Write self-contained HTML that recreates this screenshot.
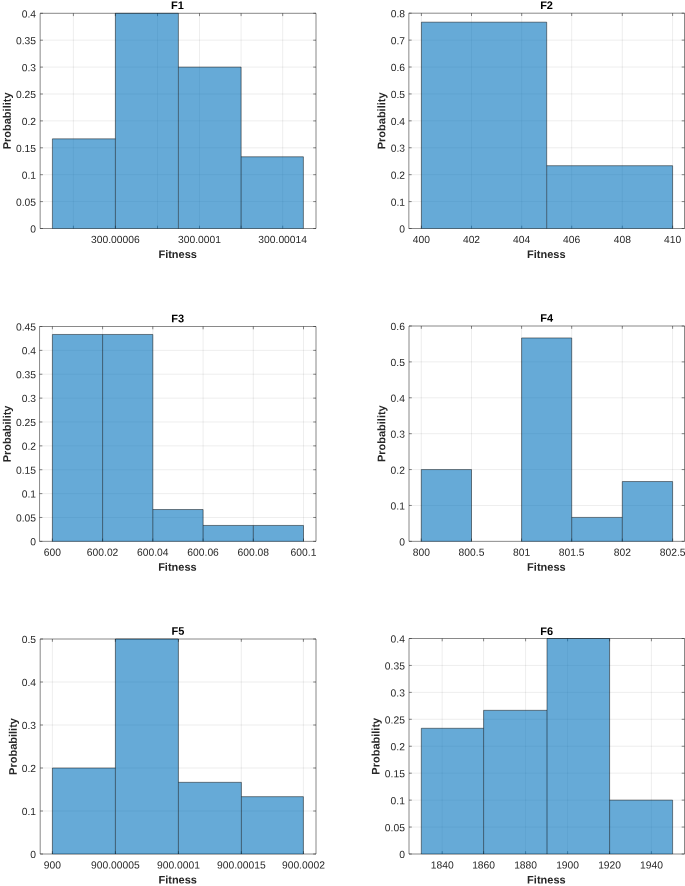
<!DOCTYPE html>
<html><head><meta charset="utf-8"><title>Histograms</title>
<style>
html,body{margin:0;padding:0;background:#fff;}
body{width:685px;height:886px;position:relative;overflow:hidden;font-family:"Liberation Sans",sans-serif;}
svg{display:block;position:absolute;left:0;top:0;will-change:transform;}
text{font-family:"Liberation Sans",sans-serif;fill:#262626;}
.t{font-size:10.3px;}
.b{font-size:11px;font-weight:bold;}
</style></head><body>
<svg width="685" height="886" viewBox="0 0 685 886">
<rect x="0" y="0" width="685" height="886" fill="#fff"/>
<g>
<path d="M73.4 13.3V228.5M115.4 13.3V228.5M157.5 13.3V228.5M199.5 13.3V228.5M241.1 13.3V228.5M282.7 13.3V228.5M40.15 201.6H316M40.15 174.7H316M40.15 147.8H316M40.15 120.9H316M40.15 94H316M40.15 67.1H316M40.15 40.2H316" stroke="#262626" stroke-opacity="0.15" stroke-width="0.55" fill="none"/>
<path d="M40.15 13.3H316V228.5H40.15Z" stroke="#262626" stroke-width="0.55" fill="none"/>
<path d="M73.4 228.5v-2.8M73.4 13.3v2.8M115.4 228.5v-2.8M115.4 13.3v2.8M157.5 228.5v-2.8M157.5 13.3v2.8M199.5 228.5v-2.8M199.5 13.3v2.8M241.1 228.5v-2.8M241.1 13.3v2.8M282.7 228.5v-2.8M282.7 13.3v2.8M40.15 228.5h2.8M316 228.5h-2.8M40.15 201.6h2.8M316 201.6h-2.8M40.15 174.7h2.8M316 174.7h-2.8M40.15 147.8h2.8M316 147.8h-2.8M40.15 120.9h2.8M316 120.9h-2.8M40.15 94h2.8M316 94h-2.8M40.15 67.1h2.8M316 67.1h-2.8M40.15 40.2h2.8M316 40.2h-2.8M40.15 13.3h2.8M316 13.3h-2.8" stroke="#262626" stroke-width="0.55" fill="none"/>
<rect x="52.4" y="138.83" width="63" height="89.67" fill="#0072BD" fill-opacity="0.6"/>
<rect x="115.4" y="13.3" width="63" height="215.2" fill="#0072BD" fill-opacity="0.6"/>
<rect x="178.4" y="67.1" width="62.7" height="161.4" fill="#0072BD" fill-opacity="0.6"/>
<rect x="241.1" y="156.77" width="62.3" height="71.73" fill="#0072BD" fill-opacity="0.6"/>
<path d="M52.4 228.5V138.83M115.4 228.5V13.3M178.4 228.5V13.3M241.1 228.5V67.1M303.4 228.5V156.77M52.4 138.83H115.4M115.4 13.3H178.4M178.4 67.1H241.1M241.1 156.77H303.4" stroke="#000" stroke-opacity="0.78" stroke-width="0.6" fill="none"/>
<path d="M52.4 228.5H115.4M115.4 228.5H178.4M178.4 228.5H241.1M241.1 228.5H303.4" stroke="#000" stroke-opacity="0.35" stroke-width="0.6" fill="none"/>
<text transform="translate(115.4 242.9) rotate(0.04)" text-anchor="middle" class="t">300.00006</text>
<text transform="translate(199.5 242.9) rotate(0.04)" text-anchor="middle" class="t">300.0001</text>
<text transform="translate(282.7 242.9) rotate(0.04)" text-anchor="middle" class="t">300.00014</text>
<text transform="translate(36.05 232.6) rotate(0.04)" text-anchor="end" class="t">0</text>
<text transform="translate(36.05 205.7) rotate(0.04)" text-anchor="end" class="t">0.05</text>
<text transform="translate(36.05 178.8) rotate(0.04)" text-anchor="end" class="t">0.1</text>
<text transform="translate(36.05 151.9) rotate(0.04)" text-anchor="end" class="t">0.15</text>
<text transform="translate(36.05 125) rotate(0.04)" text-anchor="end" class="t">0.2</text>
<text transform="translate(36.05 98.1) rotate(0.04)" text-anchor="end" class="t">0.25</text>
<text transform="translate(36.05 71.2) rotate(0.04)" text-anchor="end" class="t">0.3</text>
<text transform="translate(36.05 44.3) rotate(0.04)" text-anchor="end" class="t">0.35</text>
<text transform="translate(36.05 17.4) rotate(0.04)" text-anchor="end" class="t">0.4</text>
<text transform="translate(177.38 9.1) rotate(0.04)" text-anchor="middle" class="b" style="fill:#000">F1</text>
<text transform="translate(177.67 258) rotate(0.04)" text-anchor="middle" class="b">Fitness</text>
<text transform="translate(10.7 120.9) rotate(-89.96)" text-anchor="middle" class="b">Probability</text>
</g>
<g>
<path d="M421.4 13.2V228.5M471.5 13.2V228.5M521.7 13.2V228.5M571.7 13.2V228.5M622.3 13.2V228.5M672.6 13.2V228.5M408.85 201.59H684.5M408.85 174.68H684.5M408.85 147.76H684.5M408.85 120.85H684.5M408.85 93.94H684.5M408.85 67.03H684.5M408.85 40.11H684.5" stroke="#262626" stroke-opacity="0.15" stroke-width="0.55" fill="none"/>
<path d="M408.85 13.2H684.5V228.5H408.85Z" stroke="#262626" stroke-width="0.55" fill="none"/>
<path d="M421.4 228.5v-2.8M421.4 13.2v2.8M471.5 228.5v-2.8M471.5 13.2v2.8M521.7 228.5v-2.8M521.7 13.2v2.8M571.7 228.5v-2.8M571.7 13.2v2.8M622.3 228.5v-2.8M622.3 13.2v2.8M672.6 228.5v-2.8M672.6 13.2v2.8M408.85 228.5h2.8M684.5 228.5h-2.8M408.85 201.59h2.8M684.5 201.59h-2.8M408.85 174.68h2.8M684.5 174.68h-2.8M408.85 147.76h2.8M684.5 147.76h-2.8M408.85 120.85h2.8M684.5 120.85h-2.8M408.85 93.94h2.8M684.5 93.94h-2.8M408.85 67.03h2.8M684.5 67.03h-2.8M408.85 40.11h2.8M684.5 40.11h-2.8M408.85 13.2h2.8M684.5 13.2h-2.8" stroke="#262626" stroke-width="0.55" fill="none"/>
<rect x="421.4" y="22.17" width="125.3" height="206.33" fill="#0072BD" fill-opacity="0.6"/>
<rect x="546.7" y="165.7" width="125.9" height="62.8" fill="#0072BD" fill-opacity="0.6"/>
<path d="M421.4 228.5V22.17M546.7 228.5V22.17M672.6 228.5V165.7M421.4 22.17H546.7M546.7 165.7H672.6" stroke="#000" stroke-opacity="0.78" stroke-width="0.6" fill="none"/>
<path d="M421.4 228.5H546.7M546.7 228.5H672.6" stroke="#000" stroke-opacity="0.35" stroke-width="0.6" fill="none"/>
<text transform="translate(421.4 242.9) rotate(0.04)" text-anchor="middle" class="t">400</text>
<text transform="translate(471.5 242.9) rotate(0.04)" text-anchor="middle" class="t">402</text>
<text transform="translate(521.7 242.9) rotate(0.04)" text-anchor="middle" class="t">404</text>
<text transform="translate(571.7 242.9) rotate(0.04)" text-anchor="middle" class="t">406</text>
<text transform="translate(622.3 242.9) rotate(0.04)" text-anchor="middle" class="t">408</text>
<text transform="translate(672.6 242.9) rotate(0.04)" text-anchor="middle" class="t">410</text>
<text transform="translate(405 232.6) rotate(0.04)" text-anchor="end" class="t">0</text>
<text transform="translate(405 205.69) rotate(0.04)" text-anchor="end" class="t">0.1</text>
<text transform="translate(405 178.78) rotate(0.04)" text-anchor="end" class="t">0.2</text>
<text transform="translate(405 151.86) rotate(0.04)" text-anchor="end" class="t">0.3</text>
<text transform="translate(405 124.95) rotate(0.04)" text-anchor="end" class="t">0.4</text>
<text transform="translate(405 98.04) rotate(0.04)" text-anchor="end" class="t">0.5</text>
<text transform="translate(405 71.12) rotate(0.04)" text-anchor="end" class="t">0.6</text>
<text transform="translate(405 44.21) rotate(0.04)" text-anchor="end" class="t">0.7</text>
<text transform="translate(405 17.3) rotate(0.04)" text-anchor="end" class="t">0.8</text>
<text transform="translate(546.57 9) rotate(0.04)" text-anchor="middle" class="b" style="fill:#000">F2</text>
<text transform="translate(546.27 258) rotate(0.04)" text-anchor="middle" class="b">Fitness</text>
<text transform="translate(385.3 120.85) rotate(-89.96)" text-anchor="middle" class="b">Probability</text>
</g>
<g>
<path d="M52.4 326.5V541.35M102.6 326.5V541.35M152.8 326.5V541.35M203.1 326.5V541.35M253.3 326.5V541.35M303.5 326.5V541.35M39.55 517.48H316M39.55 493.61H316M39.55 469.73H316M39.55 445.86H316M39.55 421.99H316M39.55 398.12H316M39.55 374.24H316M39.55 350.37H316" stroke="#262626" stroke-opacity="0.15" stroke-width="0.55" fill="none"/>
<path d="M39.55 326.5H316V541.35H39.55Z" stroke="#262626" stroke-width="0.55" fill="none"/>
<path d="M52.4 541.35v-2.8M52.4 326.5v2.8M102.6 541.35v-2.8M102.6 326.5v2.8M152.8 541.35v-2.8M152.8 326.5v2.8M203.1 541.35v-2.8M203.1 326.5v2.8M253.3 541.35v-2.8M253.3 326.5v2.8M303.5 541.35v-2.8M303.5 326.5v2.8M39.55 541.35h2.8M316 541.35h-2.8M39.55 517.48h2.8M316 517.48h-2.8M39.55 493.61h2.8M316 493.61h-2.8M39.55 469.73h2.8M316 469.73h-2.8M39.55 445.86h2.8M316 445.86h-2.8M39.55 421.99h2.8M316 421.99h-2.8M39.55 398.12h2.8M316 398.12h-2.8M39.55 374.24h2.8M316 374.24h-2.8M39.55 350.37h2.8M316 350.37h-2.8M39.55 326.5h2.8M316 326.5h-2.8" stroke="#262626" stroke-width="0.55" fill="none"/>
<rect x="52.4" y="334.46" width="50.2" height="206.89" fill="#0072BD" fill-opacity="0.6"/>
<rect x="102.6" y="334.46" width="50.2" height="206.89" fill="#0072BD" fill-opacity="0.6"/>
<rect x="152.8" y="509.52" width="50.3" height="31.83" fill="#0072BD" fill-opacity="0.6"/>
<rect x="203.1" y="525.44" width="50.2" height="15.91" fill="#0072BD" fill-opacity="0.6"/>
<rect x="253.3" y="525.44" width="50.2" height="15.91" fill="#0072BD" fill-opacity="0.6"/>
<path d="M52.4 541.35V334.46M102.6 541.35V334.46M152.8 541.35V334.46M203.1 541.35V509.52M253.3 541.35V525.44M303.5 541.35V525.44M52.4 334.46H102.6M102.6 334.46H152.8M152.8 509.52H203.1M203.1 525.44H253.3M253.3 525.44H303.5" stroke="#000" stroke-opacity="0.78" stroke-width="0.6" fill="none"/>
<path d="M52.4 541.35H102.6M102.6 541.35H152.8M152.8 541.35H203.1M203.1 541.35H253.3M253.3 541.35H303.5" stroke="#000" stroke-opacity="0.35" stroke-width="0.6" fill="none"/>
<text transform="translate(52.4 555.75) rotate(0.04)" text-anchor="middle" class="t">600</text>
<text transform="translate(102.6 555.75) rotate(0.04)" text-anchor="middle" class="t">600.02</text>
<text transform="translate(152.8 555.75) rotate(0.04)" text-anchor="middle" class="t">600.04</text>
<text transform="translate(203.1 555.75) rotate(0.04)" text-anchor="middle" class="t">600.06</text>
<text transform="translate(253.3 555.75) rotate(0.04)" text-anchor="middle" class="t">600.08</text>
<text transform="translate(303.5 555.75) rotate(0.04)" text-anchor="middle" class="t">600.1</text>
<text transform="translate(36 545.3) rotate(0.04)" text-anchor="end" class="t">0</text>
<text transform="translate(36 521.43) rotate(0.04)" text-anchor="end" class="t">0.05</text>
<text transform="translate(36 497.56) rotate(0.04)" text-anchor="end" class="t">0.1</text>
<text transform="translate(36 473.68) rotate(0.04)" text-anchor="end" class="t">0.15</text>
<text transform="translate(36 449.81) rotate(0.04)" text-anchor="end" class="t">0.2</text>
<text transform="translate(36 425.94) rotate(0.04)" text-anchor="end" class="t">0.25</text>
<text transform="translate(36 402.07) rotate(0.04)" text-anchor="end" class="t">0.3</text>
<text transform="translate(36 378.19) rotate(0.04)" text-anchor="end" class="t">0.35</text>
<text transform="translate(36 354.32) rotate(0.04)" text-anchor="end" class="t">0.4</text>
<text transform="translate(36 330.45) rotate(0.04)" text-anchor="end" class="t">0.45</text>
<text transform="translate(177.68 322.3) rotate(0.04)" text-anchor="middle" class="b" style="fill:#000">F3</text>
<text transform="translate(177.38 570.85) rotate(0.04)" text-anchor="middle" class="b">Fitness</text>
<text transform="translate(10.8 433.93) rotate(-89.96)" text-anchor="middle" class="b">Probability</text>
</g>
<g>
<path d="M421.3 326V541.35M471.5 326V541.35M521.6 326V541.35M571.7 326V541.35M622.3 326V541.35M672.6 326V541.35M409 505.46H684.5M409 469.57H684.5M409 433.68H684.5M409 397.78H684.5M409 361.89H684.5" stroke="#262626" stroke-opacity="0.15" stroke-width="0.55" fill="none"/>
<path d="M409 326H684.5V541.35H409Z" stroke="#262626" stroke-width="0.55" fill="none"/>
<path d="M421.3 541.35v-2.8M421.3 326v2.8M471.5 541.35v-2.8M471.5 326v2.8M521.6 541.35v-2.8M521.6 326v2.8M571.7 541.35v-2.8M571.7 326v2.8M622.3 541.35v-2.8M622.3 326v2.8M672.6 541.35v-2.8M672.6 326v2.8M409 541.35h2.8M684.5 541.35h-2.8M409 505.46h2.8M684.5 505.46h-2.8M409 469.57h2.8M684.5 469.57h-2.8M409 433.68h2.8M684.5 433.68h-2.8M409 397.78h2.8M684.5 397.78h-2.8M409 361.89h2.8M684.5 361.89h-2.8M409 326h2.8M684.5 326h-2.8" stroke="#262626" stroke-width="0.55" fill="none"/>
<rect x="421.3" y="469.57" width="50.2" height="71.78" fill="#0072BD" fill-opacity="0.6"/>
<rect x="521.6" y="337.96" width="50.1" height="203.39" fill="#0072BD" fill-opacity="0.6"/>
<rect x="571.7" y="517.42" width="50.6" height="23.93" fill="#0072BD" fill-opacity="0.6"/>
<rect x="622.3" y="481.53" width="50.3" height="59.82" fill="#0072BD" fill-opacity="0.6"/>
<path d="M421.3 541.35V469.57M471.5 541.35V469.57M521.6 541.35V337.96M571.7 541.35V337.96M622.3 541.35V481.53M672.6 541.35V481.53M421.3 469.57H471.5M521.6 337.96H571.7M571.7 517.42H622.3M622.3 481.53H672.6" stroke="#000" stroke-opacity="0.78" stroke-width="0.6" fill="none"/>
<path d="M421.3 541.35H471.5M521.6 541.35H571.7M571.7 541.35H622.3M622.3 541.35H672.6" stroke="#000" stroke-opacity="0.35" stroke-width="0.6" fill="none"/>
<text transform="translate(421.3 555.75) rotate(0.04)" text-anchor="middle" class="t">800</text>
<text transform="translate(471.5 555.75) rotate(0.04)" text-anchor="middle" class="t">800.5</text>
<text transform="translate(521.6 555.75) rotate(0.04)" text-anchor="middle" class="t">801</text>
<text transform="translate(571.7 555.75) rotate(0.04)" text-anchor="middle" class="t">801.5</text>
<text transform="translate(622.3 555.75) rotate(0.04)" text-anchor="middle" class="t">802</text>
<text transform="translate(672.6 555.75) rotate(0.04)" text-anchor="middle" class="t">802.5</text>
<text transform="translate(404.9 545.45) rotate(0.04)" text-anchor="end" class="t">0</text>
<text transform="translate(404.9 509.56) rotate(0.04)" text-anchor="end" class="t">0.1</text>
<text transform="translate(404.9 473.67) rotate(0.04)" text-anchor="end" class="t">0.2</text>
<text transform="translate(404.9 437.78) rotate(0.04)" text-anchor="end" class="t">0.3</text>
<text transform="translate(404.9 401.88) rotate(0.04)" text-anchor="end" class="t">0.4</text>
<text transform="translate(404.9 365.99) rotate(0.04)" text-anchor="end" class="t">0.5</text>
<text transform="translate(404.9 330.1) rotate(0.04)" text-anchor="end" class="t">0.6</text>
<text transform="translate(546.65 321.8) rotate(0.04)" text-anchor="middle" class="b" style="fill:#000">F4</text>
<text transform="translate(546.35 570.85) rotate(0.04)" text-anchor="middle" class="b">Fitness</text>
<text transform="translate(385.3 433.68) rotate(-89.96)" text-anchor="middle" class="b">Probability</text>
</g>
<g>
<path d="M52.4 639V854M115.4 639V854M178.4 639V854M241.3 639V854M303.4 639V854M40.2 811H316M40.2 768H316M40.2 725H316M40.2 682H316" stroke="#262626" stroke-opacity="0.15" stroke-width="0.55" fill="none"/>
<path d="M40.2 639H316V854H40.2Z" stroke="#262626" stroke-width="0.55" fill="none"/>
<path d="M52.4 854v-2.8M52.4 639v2.8M115.4 854v-2.8M115.4 639v2.8M178.4 854v-2.8M178.4 639v2.8M241.3 854v-2.8M241.3 639v2.8M303.4 854v-2.8M303.4 639v2.8M40.2 854h2.8M316 854h-2.8M40.2 811h2.8M316 811h-2.8M40.2 768h2.8M316 768h-2.8M40.2 725h2.8M316 725h-2.8M40.2 682h2.8M316 682h-2.8M40.2 639h2.8M316 639h-2.8" stroke="#262626" stroke-width="0.55" fill="none"/>
<rect x="52.4" y="768" width="63" height="86" fill="#0072BD" fill-opacity="0.6"/>
<rect x="115.4" y="639" width="63" height="215" fill="#0072BD" fill-opacity="0.6"/>
<rect x="178.4" y="782.33" width="63" height="71.67" fill="#0072BD" fill-opacity="0.6"/>
<rect x="241.4" y="796.67" width="62" height="57.33" fill="#0072BD" fill-opacity="0.6"/>
<path d="M52.4 854V768M115.4 854V639M178.4 854V639M241.4 854V782.33M303.4 854V796.67M52.4 768H115.4M115.4 639H178.4M178.4 782.33H241.4M241.4 796.67H303.4" stroke="#000" stroke-opacity="0.78" stroke-width="0.6" fill="none"/>
<path d="M52.4 854H115.4M115.4 854H178.4M178.4 854H241.4M241.4 854H303.4" stroke="#000" stroke-opacity="0.35" stroke-width="0.6" fill="none"/>
<text transform="translate(52.4 868.4) rotate(0.04)" text-anchor="middle" class="t">900</text>
<text transform="translate(115.4 868.4) rotate(0.04)" text-anchor="middle" class="t">900.00005</text>
<text transform="translate(178.4 868.4) rotate(0.04)" text-anchor="middle" class="t">900.0001</text>
<text transform="translate(241.3 868.4) rotate(0.04)" text-anchor="middle" class="t">900.00015</text>
<text transform="translate(303.4 868.4) rotate(0.04)" text-anchor="middle" class="t">900.0002</text>
<text transform="translate(36.1 858.1) rotate(0.04)" text-anchor="end" class="t">0</text>
<text transform="translate(36.1 815.1) rotate(0.04)" text-anchor="end" class="t">0.1</text>
<text transform="translate(36.1 772.1) rotate(0.04)" text-anchor="end" class="t">0.2</text>
<text transform="translate(36.1 729.1) rotate(0.04)" text-anchor="end" class="t">0.3</text>
<text transform="translate(36.1 686.1) rotate(0.04)" text-anchor="end" class="t">0.4</text>
<text transform="translate(36.1 643.1) rotate(0.04)" text-anchor="end" class="t">0.5</text>
<text transform="translate(178 634.8) rotate(0.04)" text-anchor="middle" class="b" style="fill:#000">F5</text>
<text transform="translate(177.7 883.5) rotate(0.04)" text-anchor="middle" class="b">Fitness</text>
<text transform="translate(16.7 746.5) rotate(-89.96)" text-anchor="middle" class="b">Probability</text>
</g>
<g>
<path d="M442.2 638.5V854M483.6 638.5V854M525.6 638.5V854M567.6 638.5V854M609.6 638.5V854M651.4 638.5V854M409 827.06H684.5M409 800.12H684.5M409 773.19H684.5M409 746.25H684.5M409 719.31H684.5M409 692.38H684.5M409 665.44H684.5" stroke="#262626" stroke-opacity="0.15" stroke-width="0.55" fill="none"/>
<path d="M409 638.5H684.5V854H409Z" stroke="#262626" stroke-width="0.55" fill="none"/>
<path d="M442.2 854v-2.8M442.2 638.5v2.8M483.6 854v-2.8M483.6 638.5v2.8M525.6 854v-2.8M525.6 638.5v2.8M567.6 854v-2.8M567.6 638.5v2.8M609.6 854v-2.8M609.6 638.5v2.8M651.4 854v-2.8M651.4 638.5v2.8M409 854h2.8M684.5 854h-2.8M409 827.06h2.8M684.5 827.06h-2.8M409 800.12h2.8M684.5 800.12h-2.8M409 773.19h2.8M684.5 773.19h-2.8M409 746.25h2.8M684.5 746.25h-2.8M409 719.31h2.8M684.5 719.31h-2.8M409 692.38h2.8M684.5 692.38h-2.8M409 665.44h2.8M684.5 665.44h-2.8M409 638.5h2.8M684.5 638.5h-2.8" stroke="#262626" stroke-width="0.55" fill="none"/>
<rect x="421.3" y="728.29" width="62.3" height="125.71" fill="#0072BD" fill-opacity="0.6"/>
<rect x="483.6" y="710.33" width="63.4" height="143.67" fill="#0072BD" fill-opacity="0.6"/>
<rect x="547" y="638.5" width="62.6" height="215.5" fill="#0072BD" fill-opacity="0.6"/>
<rect x="609.6" y="800.12" width="63" height="53.88" fill="#0072BD" fill-opacity="0.6"/>
<path d="M421.3 854V728.29M483.6 854V710.33M547 854V638.5M609.6 854V638.5M672.6 854V800.12M421.3 728.29H483.6M483.6 710.33H547M547 638.5H609.6M609.6 800.12H672.6" stroke="#000" stroke-opacity="0.78" stroke-width="0.6" fill="none"/>
<path d="M421.3 854H483.6M483.6 854H547M547 854H609.6M609.6 854H672.6" stroke="#000" stroke-opacity="0.35" stroke-width="0.6" fill="none"/>
<text transform="translate(442.2 868.4) rotate(0.04)" text-anchor="middle" class="t">1840</text>
<text transform="translate(483.6 868.4) rotate(0.04)" text-anchor="middle" class="t">1860</text>
<text transform="translate(525.6 868.4) rotate(0.04)" text-anchor="middle" class="t">1880</text>
<text transform="translate(567.6 868.4) rotate(0.04)" text-anchor="middle" class="t">1900</text>
<text transform="translate(609.6 868.4) rotate(0.04)" text-anchor="middle" class="t">1920</text>
<text transform="translate(651.4 868.4) rotate(0.04)" text-anchor="middle" class="t">1940</text>
<text transform="translate(404.9 858.1) rotate(0.04)" text-anchor="end" class="t">0</text>
<text transform="translate(404.9 831.16) rotate(0.04)" text-anchor="end" class="t">0.05</text>
<text transform="translate(404.9 804.23) rotate(0.04)" text-anchor="end" class="t">0.1</text>
<text transform="translate(404.9 777.29) rotate(0.04)" text-anchor="end" class="t">0.15</text>
<text transform="translate(404.9 750.35) rotate(0.04)" text-anchor="end" class="t">0.2</text>
<text transform="translate(404.9 723.41) rotate(0.04)" text-anchor="end" class="t">0.25</text>
<text transform="translate(404.9 696.48) rotate(0.04)" text-anchor="end" class="t">0.3</text>
<text transform="translate(404.9 669.54) rotate(0.04)" text-anchor="end" class="t">0.35</text>
<text transform="translate(404.9 642.6) rotate(0.04)" text-anchor="end" class="t">0.4</text>
<text transform="translate(546.65 634.9) rotate(0.04)" text-anchor="middle" class="b" style="fill:#000">F6</text>
<text transform="translate(546.35 883.5) rotate(0.04)" text-anchor="middle" class="b">Fitness</text>
<text transform="translate(379.6 746.25) rotate(-89.96)" text-anchor="middle" class="b">Probability</text>
</g>
</svg>
</body></html>
